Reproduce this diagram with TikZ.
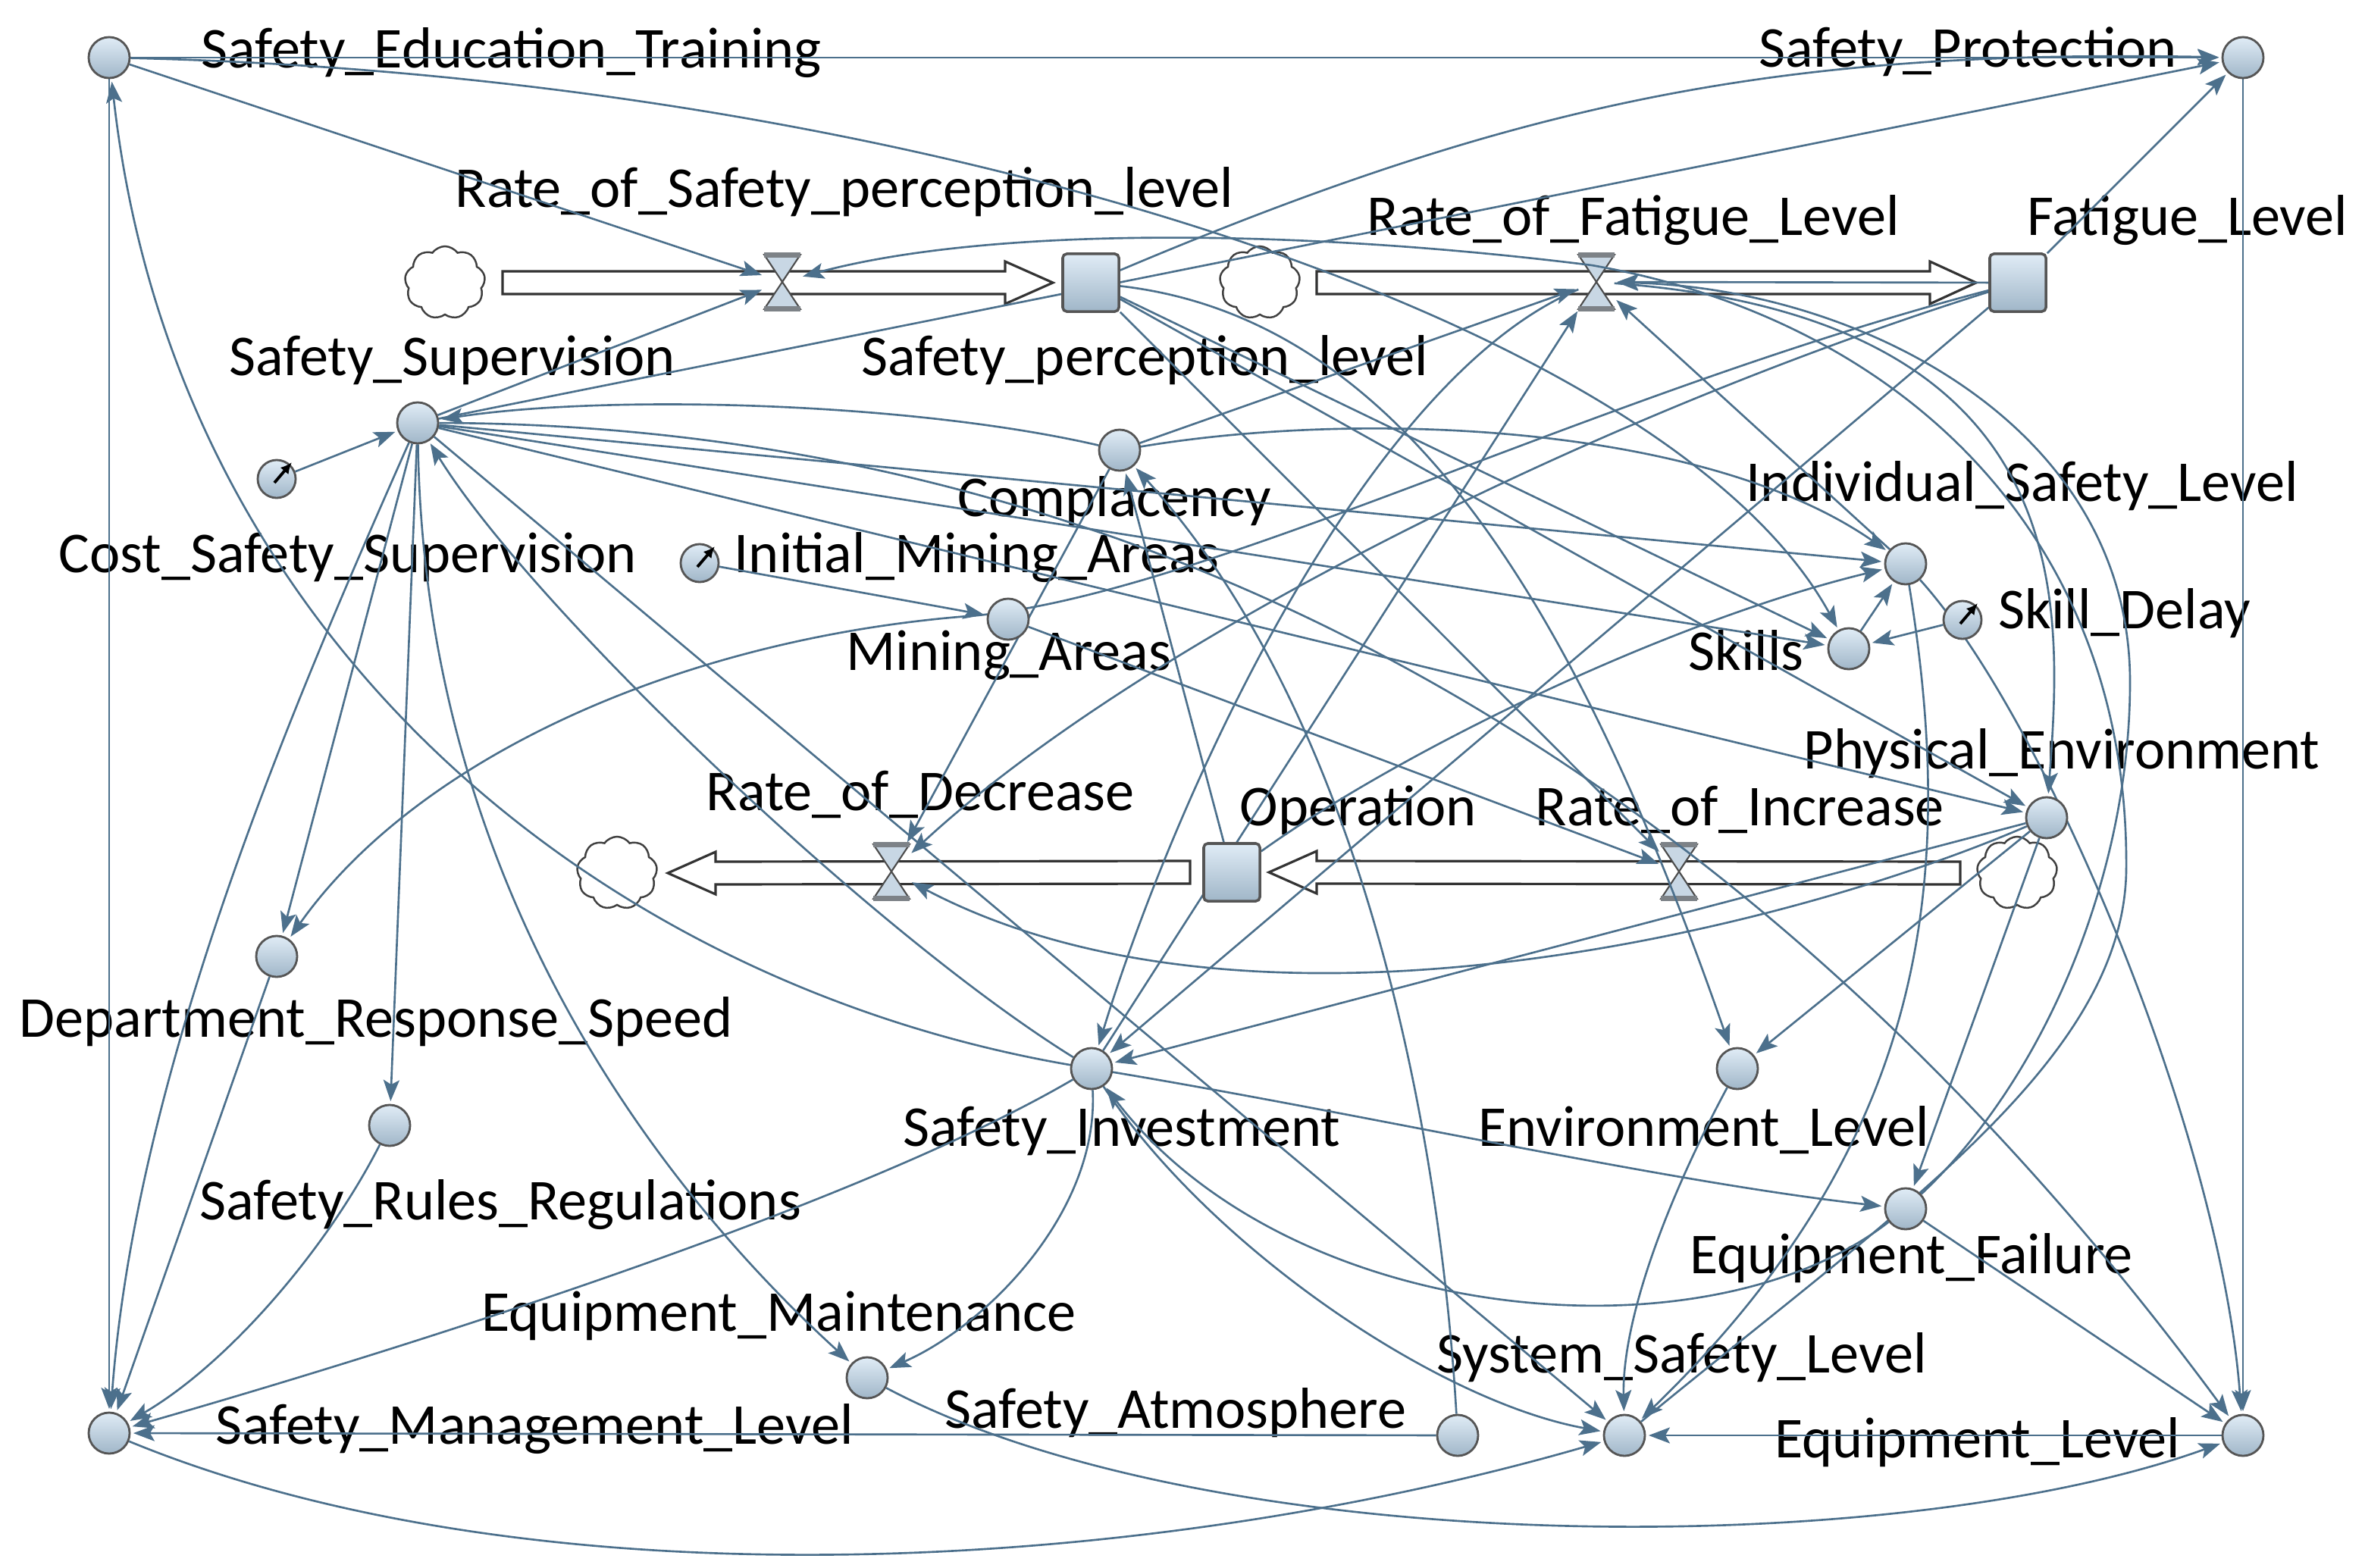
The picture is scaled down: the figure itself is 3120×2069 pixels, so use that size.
\documentclass[tikz,border=0pt]{standalone}
\usepackage{fontspec}
\setmainfont{Carlito}
\usepackage{tikz}
\usetikzlibrary{arrows.meta,calc,shapes.symbols}
\definecolor{linkc}{RGB}{76,112,140}
\definecolor{auxtop}{RGB}{224,236,246}
\definecolor{auxbot}{RGB}{160,182,200}
\definecolor{nodeline}{RGB}{85,85,85}
\definecolor{valvec}{RGB}{200,215,228}
\definecolor{valvebar}{RGB}{125,130,135}
\pgfdeclarelayer{bg}
\pgfdeclarelayer{mid}
\pgfsetlayers{bg,mid,main}
\newcommand{\valvedraw}[1]{%
  \filldraw[fill=valvec, draw=black!70, line width=0.6pt] (#1.north west) -- (#1.north east) -- (#1.south west) -- (#1.south east) -- cycle;
  \draw[valvebar, line width=2pt] (#1.north west) -- (#1.north east) (#1.south west) -- (#1.south east);}
\newcommand{\shadowmark}[1]{%
  \draw[-{Latex[length=1.5mm,width=1.4mm]}, line width=1.1pt] ($(#1)+(-3,5)$) -- ($(#1)+(20,-22)$);}

\begin{document}
\begin{tikzpicture}[x=0.01cm, y=-0.01cm,
    aux/.style={circle, draw=nodeline, line width=0.8pt, top color=auxtop, bottom color=auxbot, minimum size=0.54cm, inner sep=0pt},
    const/.style={aux, minimum size=0.5cm},
    stock/.style={rectangle, rounded corners=1.5pt, draw=nodeline, line width=1pt, top color=auxtop, bottom color=auxbot, minimum width=0.74cm, minimum height=0.76cm, inner sep=0pt},
    valve/.style={rectangle, minimum width=0.46cm, minimum height=0.7cm, inner sep=0pt},
    cloudn/.style={cloud, cloud puffs=9, cloud puff arc=110, aspect=1.1, draw=black!75, line width=0.7pt, fill=white, minimum width=1.06cm, minimum height=0.96cm, inner sep=0pt},
    pipe/.style={draw=black!80, line width=0.9pt, fill=white},
    lab/.style={anchor=base west, inner sep=0pt, font=\fontsize{21.7pt}{24pt}\selectfont},
    link/.style={draw=linkc, line width=0.75pt, shorten >=1pt, -{Stealth[length=2.8mm,width=2.1mm,inset=0.6mm]}}
]
\useasboundingbox (0,0) rectangle (3120,2069);

% variables and stocks
\node[aux] (SET) at (144,76) {};
\node[aux] (SP) at (2959,76) {};
\node[stock] (SPL) at (1439,373) {};
\node[stock] (FL) at (2662,373) {};
\node[aux] (SS) at (551,558) {};
\node[const] (CSS) at (365,632) {};
\node[aux] (Comp) at (1477,594) {};
\node[const] (IMA) at (923,743) {};
\node[aux] (MA) at (1330,817) {};
\node[aux] (ISL) at (2514,744) {};
\node[aux] (Skills) at (2439,856) {};
\node[const] (SD) at (2589,818) {};
\node[aux] (PE) at (2700,1079) {};
\node[stock] (Op) at (1625,1151) {};
\node[aux] (DRS) at (365,1262) {};
\node[aux] (SI) at (1440,1410) {};
\node[aux] (EL) at (2292,1410) {};
\node[aux] (SRR) at (514,1485) {};
\node[aux] (EF) at (2514,1595) {};
\node[aux] (EM) at (1144,1818) {};
\node[aux] (SML) at (144,1891) {};
\node[aux] (SA) at (1923,1894) {};
\node[aux] (SSL) at (2143,1894) {};
\node[aux] (ELv) at (2959,1894) {};
\shadowmark{CSS}
\shadowmark{IMA}
\shadowmark{SD}

\begin{pgfonlayer}{bg}
\fill[white] (0,0) rectangle (3120,2069);
% flows
\node[cloudn] (cA) at (587,373) {};
\node[cloudn] (cB) at (1662,373) {};
\node[cloudn] (cC) at (814,1152) {};
\node[cloudn] (cD) at (2661,1152) {};
\draw[pipe] ($(cA)+(76,-15)$) -- ($(SPL)+(-113,-15)$) -- ($(SPL)+(-113,-28)$) -- ($(SPL)+(-50,0)$) -- ($(SPL)+(-113,28)$) -- ($(SPL)+(-113,15)$) -- ($(cA)+(76,15)$) -- cycle;
\draw[pipe] ($(cB)+(75,-15)$) -- ($(FL)+(-116,-15)$) -- ($(FL)+(-116,-28)$) -- ($(FL)+(-55,0)$) -- ($(FL)+(-116,28)$) -- ($(FL)+(-116,15)$) -- ($(cB)+(75,15)$) -- cycle;
\draw[pipe] ($(cD)+(-75,-15)$) -- ($(Op)+(112,-15)$) -- ($(Op)+(112,-28)$) -- ($(Op)+(49,0)$) -- ($(Op)+(112,28)$) -- ($(Op)+(112,15)$) -- ($(cD)+(-75,15)$) -- cycle;
\draw[pipe] ($(Op)+(-55,-15)$) -- ($(cC)+(130,-15)$) -- ($(cC)+(130,-28)$) -- ($(cC)+(67,0)$) -- ($(cC)+(130,28)$) -- ($(cC)+(130,15)$) -- ($(Op)+(-55,15)$) -- cycle;
\node[valve] (vRSPL) at (1032,372) {};
\node[valve] (vRFL) at (2106,372) {};
\node[valve] (vRD) at (1176,1150) {};
\node[valve] (vRI) at (2215,1150) {};
\valvedraw{vRSPL}
\valvedraw{vRFL}
\valvedraw{vRD}
\valvedraw{vRI}
% names
\node[lab] (tSET) at (265,89) {Safety\_Education\_Training};
\node[lab] (tSP) at (2320,88) {Safety\_Protection};
\node[lab] (tRSPL) at (600,273) {Rate\_of\_Safety\_perception\_level};
\node[lab] (tRFL) at (1803,310) {Rate\_of\_Fatigue\_Level};
\node[lab] (tFL) at (2674,310) {Fatigue\_Level};
\node[lab] (tSS) at (302,495) {Safety\_Supervision};
\node[lab] (tSPL) at (1136,495) {Safety\_perception\_level};
\node[lab] (tComp) at (1263,681) {Complacency};
\node[lab] (tISL) at (2303,661) {Individual\_Safety\_Level};
\node[lab] (tCSS) at (77,755) {Cost\_Safety\_Supervision};
\node[lab] (tIMA) at (968,755) {Initial\_Mining\_Areas};
\node[lab] (tMA) at (1116,884) {Mining\_Areas};
\node[lab] (tSkills) at (2227,884) {Skills};
\node[lab] (tSD) at (2636,829) {Skill\_Delay};
\node[lab] (tPE) at (2379,1014) {Physical\_Environment};
\node[lab] (tRD) at (931,1069) {Rate\_of\_Decrease};
\node[lab] (tOp) at (1635,1089) {Operation};
\node[lab] (tRI) at (2025,1089) {Rate\_of\_Increase};
\node[lab] (tDRS) at (25,1368) {Department\_Response\_Speed};
\node[lab] (tSI) at (1191,1512) {Safety\_Investment};
\node[lab] (tEL) at (1950,1512) {Environment\_Level};
\node[lab] (tSRR) at (263,1609) {Safety\_Rules\_Regulations};
\node[lab] (tEF) at (2229,1680) {Equipment\_Failure};
\node[lab] (tEM) at (635,1756) {Equipment\_Maintenance};
\node[lab] (tSSL) at (1895,1811) {System\_Safety\_Level};
\node[lab] (tSA) at (1246,1884) {Safety\_Atmosphere};
\node[lab] (tSML) at (284,1905) {Safety\_Management\_Level};
\node[lab] (tELv) at (2341,1923) {Equipment\_Level};
\end{pgfonlayer}

% causal links
\begin{pgfonlayer}{mid}
\draw[link] (SET) -- (SP);
\draw[link] (SET) -- (vRSPL);
\draw[link] (SET) .. controls (1200,100) and (2200,420) .. (Skills);
\draw[link] (SET) -- (SML);
\draw[link] (SI) .. controls (800,1300) and (230,850) .. (SET);
\draw[link] (SS) -- (SP);
\draw[link] (SS) -- (vRSPL);
\draw[link] (CSS) -- (SS);
\draw[link] (SPL) to[bend left=12] (SP);
\draw[link] (FL) -- (SP);
\draw[link] (SPL) -- (PE);
\draw[link] (SPL) -- (Skills);
\draw[link] (SPL) -- (vRI);
\draw[link] (SPL) .. controls (1850,420) and (2080,800) .. (EL);
\draw[link] (Comp) -- (vRFL);
\draw[link] (Comp) .. controls (1800,540) and (2250,560) .. (ISL);
\draw[link] (Comp) -- (vRD);
\draw[link] (Comp) .. controls (1200,530) and (800,520) .. (SS);
\draw[link] (FL) .. controls (2100,550) and (1500,850) .. (vRD);
\draw[link] (FL) -- (SI);
\draw[link] (FL) .. controls (2100,520) and (1600,780) .. (1290,812) .. controls (900,840) and (550,1000) .. (DRS);
\draw[link] (FL) -- (vRFL);
\draw[link] (Op) -- (Comp);
\draw[link] (Op) .. controls (1850,990) and (2200,820) .. (ISL);
\draw[link] (SA) .. controls (1900,1500) and (1800,950) .. (Comp);
\draw[link] (SA) -- (SML);
\draw[link] (SS) -- (DRS);
\draw[link] (SS) -- (SRR);
\draw[link] (SS) .. controls (400,900) and (180,1400) .. (SML);
\draw[link] (SS) .. controls (560,1150) and (850,1550) .. (EM);
\draw[link] (SS) -- (SSL);
\draw[link] (SS) -- (ISL);
\draw[link] (SS) -- (Skills);
\draw[link] (SS) -- (PE);
\draw[link] (SS) .. controls (1500,560) and (2300,1000) .. (ELv);
\draw[link] (IMA) -- (MA);
\draw[link] (MA) -- (vRI);
\draw[link] (SI) .. controls (1150,1230) and (700,800) .. (SS);
\draw[link] (SI) -- (vRFL);
\draw[link] (vRFL) .. controls (1800,500) and (1550,1050) .. (SI);
\draw[link] (SI) .. controls (1450,1600) and (1300,1750) .. (EM);
\draw[link] (SI) .. controls (1150,1580) and (600,1760) .. (SML);
\draw[link] (SI) .. controls (1600,1650) and (1900,1850) .. (SSL);
\draw[link] (SI) .. controls (1800,1470) and (2200,1560) .. (EF);
\draw[link] (EF) .. controls (2250,1800) and (1700,1750) .. (SI);
\draw[link] (Skills) -- (ISL);
\draw[link] (SD) -- (Skills);
\draw[link] (ISL) .. controls (2580,1150) and (2550,1500) .. (SSL);
\draw[link] (ISL) -- (vRFL);
\draw[link] (ISL) .. controls (2700,950) and (2930,1500) .. (ELv);
\draw[link] (PE) .. controls (2350,1230) and (1650,1400) .. (vRD);
\draw[link] (PE) -- (EL);
\draw[link] (PE) -- (EF);
\draw[link] (PE) -- (SI);
\draw[link] (EL) .. controls (2190,1600) and (2140,1750) .. (SSL);
\draw[link] (EF) -- (ELv);
\draw[link] (EF) .. controls (2700,1420) and (2810,1150) .. (2810,900) .. controls (2810,560) and (2450,380) .. (vRFL);
\draw[link] (vRFL) .. controls (2750,420) and (2720,800) .. (PE);
\draw[link] (SSL) .. controls (2500,1600) and (2800,1400) .. (2805,1150) .. controls (2810,700) and (2500,420) .. (2100,350) .. controls (1700,300) and (1300,300) .. (vRSPL);
\draw[link] (SML) .. controls (700,2120) and (1500,2080) .. (SSL);
\draw[link] (EM) .. controls (1600,2060) and (2500,2060) .. (ELv);
\draw[link] (ELv) -- (SSL);
\draw[link] (SP) -- (ELv);
\draw[link] (DRS) -- (SML);
\draw[link] (SRR) .. controls (430,1650) and (300,1800) .. (SML);
\end{pgfonlayer}
\end{tikzpicture}
\end{document}
